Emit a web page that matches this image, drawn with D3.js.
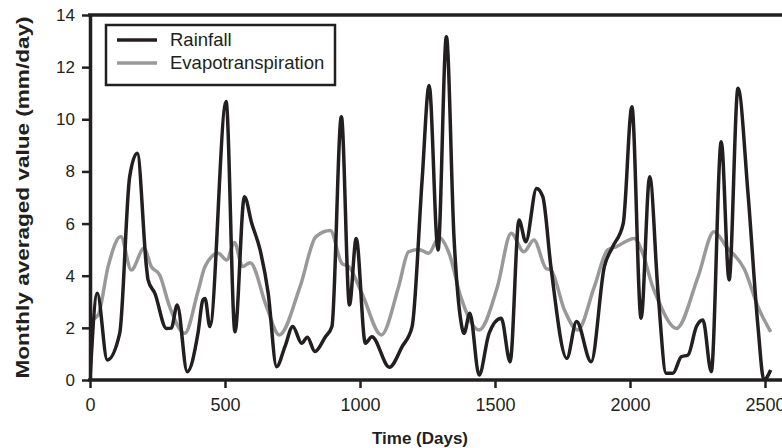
<!DOCTYPE html>
<html>
<head>
<meta charset="utf-8">
<script src="https://cdn.jsdelivr.net/npm/d3@7"></script>
<style>
  body { margin: 0; background: #fff; }
  svg { display: block; font-family: Arial, "Liberation Sans", sans-serif; }
</style>
</head>
<body>
<div class="canvas"></div>
<script>
// Data (day, mm/day)
const rainDays = [0, 27, 64, 110, 147, 175, 209, 215, 240, 283, 301, 323, 360, 400, 418, 426, 444, 504, 537, 572, 599, 630, 660, 691, 722, 751, 784, 805, 833, 872, 896, 931, 961, 986, 1020, 1044, 1109, 1156, 1193, 1230, 1256, 1289, 1320, 1348, 1373, 1385, 1407, 1441, 1478, 1523, 1556, 1589, 1614, 1654, 1677, 1707, 1766, 1802, 1856, 1905, 1936, 1975, 2007, 2041, 2073, 2104, 2134, 2159, 2190, 2215, 2246, 2270, 2301, 2338, 2367, 2400, 2437, 2474, 2496, 2521];
const rainValues = [0, 3.33, 0.77, 1.79, 7.8, 8.7, 4.35, 3.84, 3.33, 1.98, 1.99, 2.88, 0.32, 1.8, 3.07, 3.13, 2.05, 10.68, 1.85, 7.03, 6.01, 4.99, 3.33, 0.51, 1.28, 2.05, 1.41, 1.64, 1.09, 1.66, 2.05, 10.1, 2.88, 5.43, 1.41, 1.66, 0.49, 1.28, 2.05, 7.67, 11.3, 4.99, 13.17, 5.5, 2.3, 1.79, 2.56, 0.19, 1.79, 2.37, 0.7, 6.14, 5.3, 7.35, 7.03, 4.35, 0.83, 2.24, 0.7, 4.35, 5.11, 6.01, 10.48, 2.37, 7.8, 3.33, 0.26, 0.26, 0.89, 0.96, 2.05, 2.3, 0.32, 9.14, 3.84, 11.19, 7.16, 2.05, 0, 0.38];

const etDays = [0, 30, 67, 114, 153, 200, 227, 258, 295, 351, 400, 426, 475, 506, 535, 565, 593, 654, 701, 778, 837, 890, 933, 958, 1007, 1079, 1143, 1180, 1217, 1254, 1293, 1330, 1373, 1441, 1509, 1560, 1607, 1644, 1689, 1707, 1757, 1806, 1868, 1917, 1948, 2016, 2047, 2084, 2104, 2172, 2252, 2311, 2357, 2425, 2474, 2521];
const etValues = [2.27, 2.49, 4.35, 5.5, 4.22, 5.05, 4.35, 4.03, 2.81, 1.79, 3.4, 4.35, 4.86, 4.6, 5.27, 4.35, 4.5, 2.81, 1.73, 3.58, 5.5, 5.73, 4.47, 4.35, 3.33, 1.73, 3.58, 4.92, 5.01, 4.86, 5.47, 4.86, 3.2, 1.92, 3.58, 5.63, 4.92, 5.37, 4.28, 4.22, 2.69, 1.92, 3.58, 4.99, 5.11, 5.43, 4.86, 3.58, 3.07, 1.98, 3.96, 5.69, 5.11, 4.22, 2.81, 1.85];

const seriesNames = ["Rainfall", "Evapotranspiration"];
const seriesColours = ["#231f20", "#999999"];
const xTicks = [0, 500, 1000, 1500, 2000, 2500];
const yTicks = [0, 2, 4, 6, 8, 10, 12, 14];

const width = 782, height = 448;
const margin = { top: 15, left: 90, bottom: 68 };
const graphHeight = height - margin.top - margin.bottom;

const svg = d3.select(".canvas")
    .append("svg")
    .attr("width", width)
    .attr("height", height)
    .style("overflow", "hidden");

const x = d3.scaleLinear().domain([0, 2600]).range([margin.left, margin.left + 2600 * 0.27]);
const y = d3.scaleLinear().domain([0, 14]).range([margin.top + graphHeight, margin.top]);

// Clip so lines stay inside the plot
svg.append("clipPath").attr("id", "plot")
    .append("rect")
    .attr("x", margin.left).attr("y", margin.top - 2)
    .attr("width", width - margin.left).attr("height", graphHeight + 2);

const line = d3.line()
    .x(d => x(d[0]))
    .y(d => y(Math.max(0, d[1])))
    .curve(d3.curveMonotoneX);

const rain = rainDays.map((d, i) => [d, rainValues[i]]);
const et = etDays.map((d, i) => [d, etValues[i]]);

const g = svg.append("g").attr("clip-path", "url(#plot)");
g.append("path").datum(et)
    .attr("d", line).attr("fill", "none")
    .attr("stroke", seriesColours[1]).attr("stroke-width", 3.5)
    .attr("stroke-linejoin", "round");
g.append("path").datum(rain)
    .attr("d", line).attr("fill", "none")
    .attr("stroke", seriesColours[0]).attr("stroke-width", 3.5)
    .attr("stroke-linejoin", "round");

// Axes
const xAxis = d3.axisBottom(x).tickValues(xTicks).tickFormat(d3.format("d"))
    .tickSize(8).tickPadding(10).tickSizeOuter(0);
const yAxis = d3.axisLeft(y).tickValues(yTicks).tickFormat(d3.format("d"))
    .tickSize(8).tickPadding(7).tickSizeOuter(0);

const xg = svg.append("g")
    .attr("transform", `translate(0, ${margin.top + graphHeight})`)
    .call(xAxis);
const yg = svg.append("g")
    .attr("transform", `translate(${margin.left}, 0)`)
    .call(yAxis);

[xg, yg].forEach(a => {
    a.select(".domain").attr("stroke", "#231f20").attr("stroke-width", 3.5);
    a.selectAll(".tick line").attr("stroke", "#231f20").attr("stroke-width", 2.5);
    a.selectAll(".tick text").attr("fill", "#231f20")
        .style("font-family", "Arial, 'Liberation Sans', sans-serif");
});
xg.selectAll(".tick text").style("font-size", "18px");
yg.selectAll(".tick text").style("font-size", "17px");
xg.select(".domain").attr("d", `M${margin.left - 2},0H${width}`);

// Top frame line
svg.append("line")
    .attr("x1", margin.left - 2).attr("x2", width)
    .attr("y1", margin.top).attr("y2", margin.top)
    .attr("stroke", "#231f20").attr("stroke-width", 3.5);

// Axis titles
svg.append("text")
    .attr("x", 420).attr("y", 444)
    .attr("text-anchor", "middle")
    .style("font-size", "17px").style("font-weight", "bold")
    .attr("fill", "#231f20")
    .text("Time (Days)");
svg.append("text")
    .attr("transform", `translate(29, ${margin.top + graphHeight / 2}) rotate(-90)`)
    .attr("text-anchor", "middle")
    .attr("textLength", 362)
    .attr("lengthAdjust", "spacingAndGlyphs")
    .style("font-size", "18px").style("font-weight", "bold")
    .attr("fill", "#231f20")
    .text("Monthly averaged value (mm/day)");

// Legend
const legend = svg.append("g");
legend.append("rect")
    .attr("x", 106).attr("y", 25).attr("width", 229).attr("height", 60)
    .attr("fill", "#fff").attr("stroke", "#231f20").attr("stroke-width", 2.5);
seriesNames.forEach((name, i) => {
    const ly = 40 + i * 23;
    legend.append("line")
        .attr("x1", 117).attr("x2", 157).attr("y1", ly).attr("y2", ly)
        .attr("stroke", seriesColours[i]).attr("stroke-width", 3.5);
    legend.append("text")
        .attr("x", 170).attr("y", ly + 6)
        .style("font-size", "18.5px").attr("fill", "#231f20")
        .text(name);
});
</script>
</body>
</html>
